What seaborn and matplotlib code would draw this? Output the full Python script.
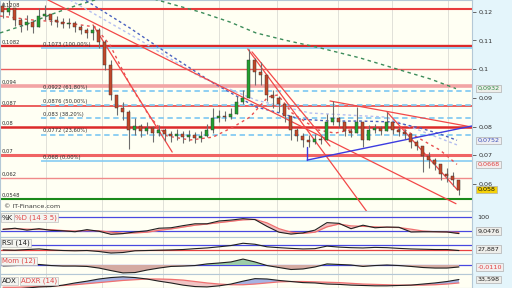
import numpy as np
import pandas as pd
import matplotlib
matplotlib.use("Agg")
import matplotlib.pyplot as plt
import seaborn as sns
from matplotlib.transforms import blended_transform_factory as btf

# ---------------- data ----------------
closes = [0.1199,0.1213,0.1171,0.1154,0.1164,0.1147,0.1185,0.1192,0.1171,0.1164,
          0.1157,0.1161,0.1147,0.1136,0.1126,0.1136,0.1094,0.1014,0.0910,0.0864,
          0.0851,0.0788,0.0802,0.0784,0.0795,0.0778,0.0788,0.0774,0.0767,0.0774,
          0.0763,0.0770,0.0760,0.0767,0.0788,0.0830,0.0837,0.0833,0.0844,0.0885,
          0.0899,0.1032,0.0990,0.0979,0.0910,0.0899,0.0878,0.0837,0.0788,0.0767,
          0.0753,0.0746,0.0757,0.0753,0.0816,0.0830,0.0816,0.0784,0.0777,0.0816,
          0.0753,0.0788,0.0795,0.0784,0.0816,0.0788,0.0781,0.0774,0.0746,0.0732,
          0.0697,0.0683,0.0669,0.0634,0.0627,0.0613,0.0580]
highs = [0.1234,0.1241,0.1199,0.1178,0.1188,0.1171,0.1213,0.1223,0.1192,0.1185,
         0.1178,0.1178,0.1168,0.1154,0.1143,0.1154,0.1143,0.1101,0.1032,0.0910,
         0.0885,0.0858,0.0830,0.0809,0.0816,0.0802,0.0805,0.0795,0.0784,0.0791,
         0.0784,0.0788,0.0781,0.0784,0.0809,0.0864,0.0858,0.0854,0.0864,0.0906,
         0.0927,0.1070,0.1039,0.1025,0.0948,0.0927,0.0906,0.0864,0.0830,0.0795,
         0.0777,0.0770,0.0774,0.0770,0.0843,0.0889,0.0833,0.0805,0.0795,0.0868,
         0.0802,0.0805,0.0809,0.0802,0.0851,0.0805,0.0798,0.0791,0.0767,0.0753,
         0.0725,0.0711,0.0690,0.0662,0.0655,0.0641,0.0613]
lows = [0.1178,0.1188,0.1150,0.1129,0.1136,0.1126,0.1164,0.1171,0.1154,0.1147,
        0.1143,0.1143,0.1129,0.1122,0.1108,0.1101,0.1074,0.0997,0.0892,0.0840,
        0.0823,0.0722,0.0770,0.0763,0.0774,0.0746,0.0767,0.0749,0.0746,0.0753,
        0.0742,0.0749,0.0742,0.0746,0.0763,0.0777,0.0816,0.0819,0.0826,0.0858,
        0.0878,0.0945,0.0945,0.0945,0.0889,0.0864,0.0851,0.0816,0.0753,0.0749,
        0.0728,0.0728,0.0739,0.0739,0.0760,0.0805,0.0798,0.0767,0.0763,0.0795,
        0.0728,0.0767,0.0777,0.0770,0.0795,0.0774,0.0767,0.0757,0.0725,0.0718,
        0.0641,0.0655,0.0648,0.0613,0.0606,0.0593,0.0561]
first_open = 0.1220

# moving averages (knots: candle index, price)
ma_green_idx = [-0.5,3.67,7.83,12,15.33,19.5,22.83,25.67,32.83,37.83,42.17,47,52.83,59.5,66.17,71.17,75.5]
ma_green_val = [0.1126,0.1154,0.1189,0.1220,0.1241,0.1262,0.1262,0.1241,0.1199,0.1164,0.1126,0.1101,0.1074,0.1039,0.0997,0.0966,0.0932]
ma_blue_idx = [12,13.67,21.17,27.83,35,42.17,46.17,49.5,54.5,59.5,65,69.5,72.83,75.67]
ma_blue_val = [0.1244,0.1241,0.1143,0.1049,0.0952,0.0868,0.0847,0.0826,0.0819,0.0819,0.0816,0.0795,0.0774,0.0752]
ma_red_idx = [-0.5,5,9.5,15.33,17.83,21.17,24.5,27.33,31.17,35,38.33,41.17,44.17,45.83,48.17,52.5,55.33,59.5,63.67,67,69,72.83,75.67]
ma_red_val = [0.1185,0.1171,0.1164,0.1147,0.1084,0.0945,0.0833,0.0767,0.0753,0.0763,0.0798,0.0833,0.0903,0.0910,0.0847,0.0788,0.0777,0.0795,0.0795,0.0788,0.0763,0.0718,0.0668]
ma_light_idx = [11.17,22.83,32.83,42.17,51.17,63.67,72.33,75.67]
ma_light_val = [0.1241,0.1101,0.0973,0.0892,0.0847,0.0833,0.0763,0.0736]

# horizontal support / resistance levels
levels = [0.1208, 0.1082, 0.1000, 0.0940, 0.0870, 0.0800, 0.0700, 0.0620, 0.0548]
level_labels = ["0,1208", "0,1082", "", "0,094", "0,087", "0,08", "0,07", "0,062", "0,0548"]
level_colors = ["#e83c3c", "#dc2a2a", "#ea5a5a", "#f2a4a4", "#e84444", "#dc2a2a", "#f06464", "#f08a8a", "#1a8a1a"]
level_widths = [1.5, 1.7, 1.0, 2.6, 1.2, 1.8, 2.2, 1.0, 1.5]

# Fibonacci retracements
fib_vals = [0.1073, 0.0922, 0.0876, 0.0830, 0.0772, 0.0680]
fib_labels = ["0,1073 (100,00%)", "0,0922 (61,80%)", "0,0876 (50,00%)",
              "0,083 (38,20%)", "0,0772 (23,60%)", "0,068 (0,00%)"]
fib_dashed = [False, True, True, True, True, False]

# trend lines (start index, start price, end index, end price)
red_trends = [(7.5, 0.1241, 75.5, 0.0531),
              (15.0, 0.1154, 28.2, 0.0711),
              (40.8, 0.1070, 60.7, 0.0502),
              (41.5, 0.1060, 54.5, 0.0732),
              (54.5, 0.0889, 78.2, 0.0798),
              (64.0, 0.0851, 75.8, 0.0578)]
blue_trends = [(50.7, 0.0683, 78.2, 0.0802), (50.7, 0.0683, 50.7, 0.0728)]

# indicators (every second candle)
stoch_k = [27,32,24,30,23,21,17,26,19,6,9,16,21,32,34,43,51,51,63,67,73,69,40,15,7,12,24,56,53,30,
           45,34,37,36,16,17,17,16,9.0476]
stoch_d = [28,30,28,27,26,22,20,22,21,15,11,12,15,23,29,37,45,50,56,62,68,70,55,30,15,10,15,38,50,42,
           40,38,36,35,28,20,17,16,14]
rsi = [32,30,35,39,32,28,26,28,21,10,14,26,28,30,32,35,41,46,54,63,79,72,54,48,43,39,41,59,52,48,
       46,50,48,43,39,37,35,35,27.887]
mom = [-0.005,-0.003,0,0.003,-0.003,-0.006,-0.006,-0.008,-0.017,-0.031,-0.044,-0.042,-0.028,-0.017,
       -0.008,-0.006,-0.003,0.006,0.011,0.017,0.033,0.017,-0.003,-0.014,-0.025,-0.022,-0.011,0.006,
       0.003,0,-0.008,-0.003,0,-0.003,-0.008,-0.014,-0.017,-0.017,-0.011]
adx = [8,7,10,13,14,18,24,29,35,39,41,39,35,29,24,18,14,13,16,21,29,36,35,31,28,25,24,21,20,18,
       17,16,16,17,18,21,24,28,33.598]
adxr = [12,12,13,14,15,17,19,22,25,28,31,33,35,35,34,32,28,24,21,19,19,21,24,27,28,28,27,26,25,23,
        21,20,19,18,18,18,19,21,24]
grid_idx = [7.17, 16.5, 26.67, 36, 45.67, 55.83, 64.83, 74.17]

# ---------------- style ----------------
sns.set_theme(style="white")
plt.rcParams['font.family'] = ['DejaVu Sans']

W, H = 512, 288
BG = "#fffff3"
fig = plt.figure(figsize=(W / 100, H / 100), dpi=100, facecolor="#e4f5fb")
XL = (-0.5, 78.17)


def add_ax(top, bottom):
    a = fig.add_axes([0, 1 - bottom / H, 472 / W, (bottom - top) / H])
    a.set_facecolor(BG)
    a.set_xlim(*XL)
    for s in a.spines.values():
        s.set_color("#b4c8d6")
        s.set_linewidth(0.8)
    a.set_xticks([])
    a.set_yticks([])
    for g in grid_idx:
        a.axvline(g, color="#dcdcd4", lw=0.6, zorder=0)
    return a


def fmt(v, nd):
    return f"{v:.{nd}f}".replace(".", ",")


# ---------------- main price panel ----------------
ax = add_ax(0, 211)
ax.set_ylim(0.05056, 0.12408)
n = len(closes)
idx = np.arange(n)
c = np.array(closes)
o = np.array([first_open] + closes[:-1])
hi = np.maximum.reduce([np.array(highs), o, c])
lo = np.minimum.reduce([np.array(lows), o, c])

for p, col, lw in zip(levels, level_colors, level_widths):
    ax.axhline(p, color=col, lw=lw, zorder=2)
tr = btf(ax.transAxes, ax.transData)
for p, lab in zip(levels, level_labels):
    if lab:
        ax.text(0.004, p + 0.0004, lab, transform=tr, fontsize=3.8, color="#303030", va="bottom")
for p, lab, d in zip(fib_vals, fib_labels, fib_dashed):
    ax.hlines(p, 6.3, XL[1], color="#86ccf2", lw=1.3 if d else 1.2,
              linestyles=(0, (3, 2)) if d else "solid", zorder=2)
    ax.text(6.6, p + 0.0004, lab, fontsize=3.8, color="#303030", va="bottom")

sns.lineplot(x=ma_green_idx, y=ma_green_val, ax=ax, color="#3c8c5a", lw=1.0,
             linestyle=(0, (2.5, 2.5)), zorder=3, legend=False)
sns.lineplot(x=ma_light_idx, y=ma_light_val, ax=ax, color="#b4bef0", lw=1.0,
             linestyle=(0, (2, 2)), zorder=3, legend=False)
sns.lineplot(x=ma_blue_idx, y=ma_blue_val, ax=ax, color="#4a62c0", lw=1.0,
             linestyle=(0, (2, 2)), zorder=3, legend=False)
sns.lineplot(x=ma_red_idx, y=ma_red_val, ax=ax, color="#e85050", lw=1.0,
             linestyle=(0, (2, 2.5)), zorder=3, legend=False)

for x0, y0, x1, y1 in red_trends:
    ax.plot([x0, x1], [y0, y1], color="#f24848", lw=0.9, zorder=4)
for x0, y0, x1, y1 in blue_trends:
    ax.plot([x0, x1], [y0, y1], color="#3c3ce0", lw=1.0, zorder=4)

ax.vlines(idx, lo, hi, color="#6e6e6e", lw=0.8, zorder=5)
colors = np.where(c >= o, "#24a030", "#c4482a")
heights = np.maximum(np.abs(c - o), 0.00025)
ax.bar(idx, heights, bottom=np.minimum(o, c), width=0.5, color=colors,
       edgecolor="#2e2e2e", linewidth=0.3, zorder=6)

ax.yaxis.tick_right()
ticks = [0.06, 0.07, 0.08, 0.09, 0.10, 0.11, 0.12]
ax.set_yticks(ticks)
ax.set_yticklabels([fmt(t, 2).rstrip("0").rstrip(",") if t != 0.1 else "0,1" for t in ticks])
ax.tick_params(axis="y", right=True, length=3, width=0.6, color="#505050",
               labelsize=4.6, labelcolor="#303030", pad=1.5)

tr_r = btf(ax.transAxes, ax.transData)
boxes = [(ma_green_val[-1], "#2e8a46", "#eeeeea"),
         (ma_blue_val[-1], "#3c50b8", "#eeeef2"),
         (ma_red_val[-1], "#e04040", "#f2eeee"),
         (closes[-1], "#101010", "#f5d20a")]
for v, tc, fc in boxes:
    lab = fmt(v, 4)
    if lab.endswith("0"):
        lab = lab[:-1]
    ax.text(1.012, v, lab, transform=tr_r, fontsize=4.6, color=tc, va="center", ha="left",
            bbox=dict(boxstyle="square,pad=0.2", fc=fc, ec="#b0b0b0", lw=0.5), clip_on=False, zorder=10)

fig.text(4 / W, 1 - 207 / H, "© IT-Finance.com", fontsize=4.6, color="#3a3a3a", va="center")

ind_idx = np.arange(0, n, 2)
lab_box = dict(boxstyle="square,pad=0.15", fc="#f4f4f0", ec="#c0c0c0", lw=0.5)

# ---------------- stochastic ----------------
a2 = add_ax(211, 237)
a2.set_ylim(-5.6, 105.9)
for lv in (20, 80):
    a2.axhline(lv, color="#4848e0", lw=0.9, zorder=1)
a2.fill_between(ind_idx, stoch_k, stoch_d, color="#f2b6b6", alpha=0.9, lw=0, zorder=2)
sns.lineplot(x=ind_idx, y=stoch_d, ax=a2, color="#f07070", lw=0.9, zorder=3, legend=False)
sns.lineplot(x=ind_idx, y=stoch_k, ax=a2, color="#202020", lw=0.8, zorder=4, legend=False)
a2.text(0.004, 78, "%K", transform=btf(a2.transAxes, a2.transData), fontsize=5, color="#202020",
        va="center", bbox=lab_box, zorder=6)
a2.text(0.032, 78, "%D (14 3 5)", transform=btf(a2.transAxes, a2.transData), fontsize=5,
        color="#e04848", va="center", bbox=lab_box, zorder=6)
t2 = btf(a2.transAxes, a2.transData)
a2.text(1.012, 80, "100", transform=t2, fontsize=4.6, color="#303030", va="center", clip_on=False)
a2.text(1.012, stoch_k[-1] + 12, fmt(stoch_k[-1], 4), transform=t2, fontsize=4.6, color="#202020",
        va="center", bbox=dict(boxstyle="square,pad=0.2", fc="#eeeeea", ec="#b0b0b0", lw=0.5), clip_on=False)
a2.set_yticks([])

# ---------------- RSI ----------------
a3 = add_ax(237, 254)
a3.set_ylim(3.5, 123)
a3.axhline(70, color="#4848e0", lw=0.9, zorder=1)
a3.axhline(30, color="#e84040", lw=0.9, zorder=1)
r = np.array(rsi)
a3.fill_between(ind_idx, r, 30, where=r < 30, interpolate=True, color="#d8a8a0", lw=0, zorder=2)
sns.lineplot(x=ind_idx, y=rsi, ax=a3, color="#202020", lw=0.8, zorder=4, legend=False)
a3.text(0.004, 81, "RSI (14)", transform=btf(a3.transAxes, a3.transData), fontsize=5,
        color="#202020", va="center", bbox=lab_box, zorder=6)
a3.text(1.012, rsi[-1] + 12, fmt(rsi[-1], 3), transform=btf(a3.transAxes, a3.transData), fontsize=4.6,
        color="#202020", va="center",
        bbox=dict(boxstyle="square,pad=0.2", fc="#eeeeea", ec="#b0b0b0", lw=0.5), clip_on=False)

# ---------------- Momentum ----------------
a4 = add_ax(254, 274)
a4.set_ylim(-0.05, 0.0611)
a4.axhline(0, color="#4848e0", lw=0.9, zorder=1)
m = np.array(mom)
a4.fill_between(ind_idx, m, 0, where=m < 0, interpolate=True, color="#d4aaa2", lw=0, zorder=2)
a4.fill_between(ind_idx, m, 0, where=m > 0, interpolate=True, color="#9ccca8", lw=0, zorder=2)
sns.lineplot(x=ind_idx, y=mom, ax=a4, color="#202020", lw=0.8, zorder=4, legend=False)
a4.text(0.004, 0.022, "Mom (12)", transform=btf(a4.transAxes, a4.transData), fontsize=5,
        color="#e04848", va="center", bbox=lab_box, zorder=6)
a4.text(1.012, mom[-1], fmt(mom[-1], 4), transform=btf(a4.transAxes, a4.transData), fontsize=4.6,
        color="#e04040", va="center",
        bbox=dict(boxstyle="square,pad=0.2", fc="#f2eeee", ec="#b0b0b0", lw=0.5), clip_on=False)

# ---------------- ADX ----------------
a5 = add_ax(274, 288)
a5.set_ylim(10, 48.9)
ad = np.array(adx)
ar = np.array(adxr)
a5.fill_between(ind_idx, ad, ar, where=ad >= ar, interpolate=True, color="#a6b2e2", lw=0, zorder=2)
a5.fill_between(ind_idx, ad, ar, where=ad < ar, interpolate=True, color="#f0c4c4", lw=0, zorder=2)
sns.lineplot(x=ind_idx, y=adxr, ax=a5, color="#f07070", lw=0.9, zorder=3, legend=False)
sns.lineplot(x=ind_idx, y=adx, ax=a5, color="#202020", lw=0.8, zorder=4, legend=False)
a5.text(0.004, 29.4, "ADX", transform=btf(a5.transAxes, a5.transData), fontsize=5,
        color="#202020", va="center", bbox=lab_box, zorder=6)
a5.text(0.044, 29.4, "ADXR (14)", transform=btf(a5.transAxes, a5.transData), fontsize=5,
        color="#e04848", va="center", bbox=lab_box, zorder=6)
a5.text(1.012, adx[-1], fmt(adx[-1], 3), transform=btf(a5.transAxes, a5.transData), fontsize=4.6,
        color="#202020", va="center",
        bbox=dict(boxstyle="square,pad=0.2", fc="#eeeeea", ec="#b0b0b0", lw=0.5), clip_on=False)

for a in (a2, a3, a4, a5, ax):
    a.set_xlabel("")
    a.set_ylabel("")

fig.savefig("out.png", dpi=100, facecolor=fig.get_facecolor())
